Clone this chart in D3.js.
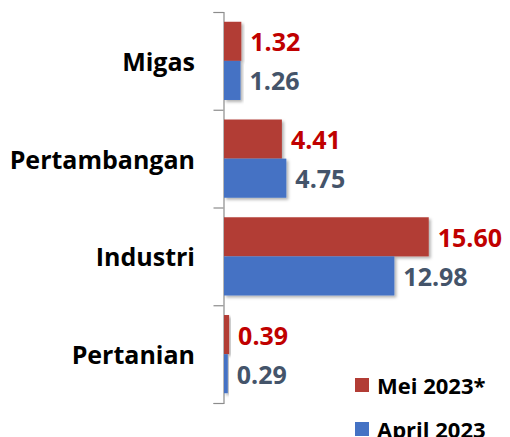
<!DOCTYPE html>
<html>
<head>
<meta charset="utf-8">
<script src="https://cdn.jsdelivr.net/npm/d3@7"></script>
<style>
  html, body { margin: 0; padding: 0; background: #fff; }
  svg text { font-family: "Open Sans", Lato, sans-serif; font-weight: bold; }
</style>
</head>
<body>
<div id="chart"></div>
<script>
// data
var categories = ["Migas", "Pertambangan", "Industri", "Pertanian"];
var seriesNames = ["Mei 2023*", "April 2023"];
var mei2023 = [1.32, 4.41, 15.60, 0.39];
var april2023 = [1.26, 4.75, 12.98, 0.29];

var barColors = ["#B23C35", "#4472C4"];
var labelColors = ["#C00000", "#44546A"];

var width = 510, height = 437;

var svg = d3.select("#chart")
    .append("svg")
        .attr("width", width)
        .attr("height", height);

// soft shadow under the bars
var filter = svg.append("defs").append("filter")
    .attr("id", "shadow")
    .attr("x", "-10%").attr("y", "-10%")
    .attr("width", "130%").attr("height", "140%");
filter.append("feDropShadow")
    .attr("dx", 2).attr("dy", 2)
    .attr("stdDeviation", 1.5)
    .attr("flood-color", "#000")
    .attr("flood-opacity", 0.3);

// scales
var y = d3.scaleBand()
    .domain(categories)
    .range([12, 403])
    .paddingInner(0.2)
    .paddingOuter(0.1);

var x = d3.scaleLinear()
    .domain([0, 16])
    .range([224, 434]);

var ySub = d3.scaleBand()
    .domain(seriesNames)
    .range([0, y.bandwidth()]);

// axis line with ticks on category boundaries
var axisScale = d3.scaleLinear().domain([0, categories.length]).range([12, 403]);
var yAxis = d3.axisLeft(axisScale)
    .tickValues(d3.range(categories.length + 1))
    .tickSize(10)
    .tickFormat("");
svg.append("g")
    .attr("class", "y axis")
    .attr("transform", "translate(223.5,0)")
    .call(yAxis)
    .call(function(g) {
        g.selectAll("path, line").attr("stroke", "#8c8c8c").attr("stroke-width", 1.2);
    });

// category labels
svg.append("g").selectAll("text")
    .data(categories)
    .enter().append("text")
        .attr("x", 195)
        .attr("y", function(d) { return y(d) + y.bandwidth() / 2; })
        .attr("text-anchor", "end")
        .attr("dominant-baseline", "central")
        .attr("font-size", 25)
        .attr("fill", "#000")
        .text(function(d) { return d; });

// bars
var series = [mei2023, april2023];
series.forEach(function(values, s) {
    var g = svg.append("g");
    g.selectAll("rect")
        .data(values)
        .enter().append("rect")
            .attr("x", x(0))
            .attr("y", function(d, i) { return y(categories[i]) + ySub(seriesNames[s]); })
            .attr("width", function(d) { return x(d) - x(0); })
            .attr("height", ySub.bandwidth())
            .attr("fill", barColors[s])
            .attr("filter", "url(#shadow)");

    g.selectAll("text")
        .data(values)
        .enter().append("text")
            .attr("x", function(d) { return x(d) + 9; })
            .attr("y", function(d, i) { return y(categories[i]) + ySub(seriesNames[s]) + ySub.bandwidth() / 2; })
            .attr("dominant-baseline", "central")
            .attr("font-size", 25)
            .attr("fill", labelColors[s])
            .text(function(d) { return d.toFixed(2); });
});

// legend
var legend = svg.append("g")
    .attr("transform", "translate(355,372)");
var items = legend.selectAll("g")
    .data(seriesNames)
    .enter().append("g")
        .attr("transform", function(d, i) { return "translate(0," + (i * 44) + ")"; });
items.append("rect")
    .attr("y", 6)
    .attr("width", 14)
    .attr("height", 14)
    .attr("fill", function(d, i) { return barColors[i]; });
items.append("text")
    .attr("x", 22)
    .attr("y", 13)
    .attr("dominant-baseline", "central")
    .attr("font-size", 22)
    .attr("fill", "#000")
    .text(function(d) { return d; });
</script>
</body>
</html>
